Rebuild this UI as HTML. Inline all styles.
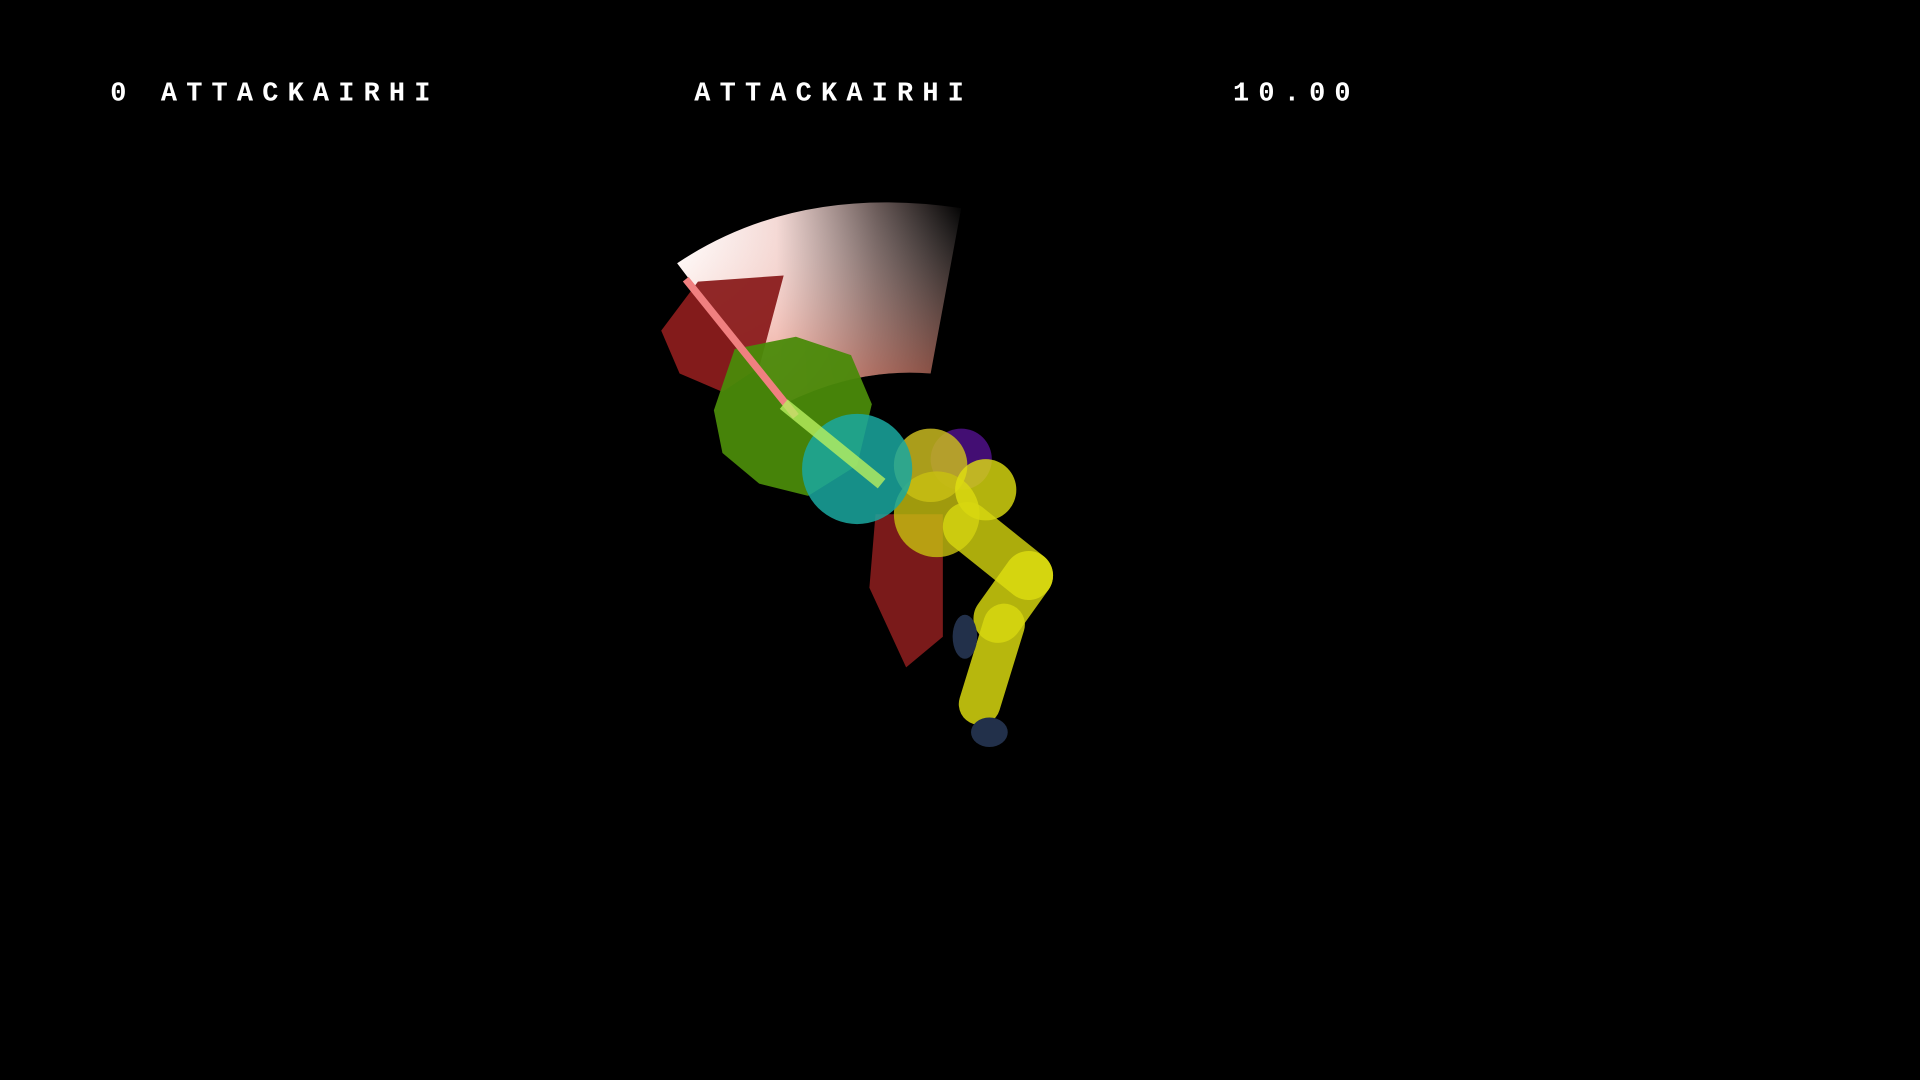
<!DOCTYPE html>
<html>
<head>
<meta charset="utf-8">
<style>
html,body{margin:0;padding:0;background:#000;width:1920px;height:1080px;overflow:hidden}
svg{display:block}
.hud{font-family:"Liberation Mono",monospace;font-weight:bold;fill:#fff;font-size:22px;letter-spacing:7.5px}
</style>
</head>
<body>
<svg width="1920" height="1080" viewBox="0 0 1568 882" preserveAspectRatio="none">
<defs>
<linearGradient id="fanGrad" x1="0" y1="0" x2="1" y2="0">
<stop offset="0" stop-color="#fff"/>
<stop offset="0.35" stop-color="#f4d8d4"/>
<stop offset="0.7" stop-color="#6a5a58"/>
<stop offset="1" stop-color="#000"/>
</linearGradient>
<linearGradient id="fanV" x1="0" y1="0" x2="0" y2="1">
<stop offset="0" stop-color="#fff" stop-opacity="0"/>
<stop offset="1" stop-color="#e86a50" stop-opacity="0.6"/>
</linearGradient>
</defs>
<rect width="1568" height="882" fill="#000"/>
<text class="hud" x="90" y="82">0 ATTACKAIRHI</text>
<text class="hud" x="567" y="82">ATTACKAIRHI</text>
<text class="hud" x="1007" y="82">10.00</text>

<g>
<path d="M553,215 Q650,150 785,170 L760,305 Q700,300 640,330 Z" fill="url(#fanGrad)"/>
<path d="M553,215 Q650,150 785,170 L760,305 Q700,300 640,330 Z" fill="url(#fanV)"/>
</g>
<polygon points="570,230 640,225 620,300 590,320 555,305 540,270" fill="#8a1c1c" opacity="0.95"/>
<g>
<polygon points="715,420 770,420 770,520 740,545 710,480" fill="#7a1a1a"/>
<circle cx="785" cy="375" r="25" fill="#4a1080" opacity="0.9"/>
<circle cx="760" cy="380" r="30" fill="#c8b820" opacity="0.85"/>
<circle cx="765" cy="420" r="35" fill="#c8c010" opacity="0.8"/>
<circle cx="805" cy="400" r="25" fill="#e0e010" opacity="0.8"/>
<line x1="790" y1="430" x2="840" y2="470" stroke="#d8d810" stroke-width="40" stroke-linecap="round" opacity="0.8"/>
<line x1="840" y1="470" x2="815" y2="505" stroke="#e0e010" stroke-width="40" stroke-linecap="round" opacity="0.8"/>
<line x1="820" y1="510" x2="800" y2="575" stroke="#d8d810" stroke-width="34" stroke-linecap="round" opacity="0.85"/>
<ellipse cx="808" cy="598" rx="15" ry="12" fill="#22304a"/>
<ellipse cx="788" cy="520" rx="10" ry="18" fill="#22304a"/>
</g>
<polygon points="600,285 650,275 695,290 712,330 700,380 660,405 620,395 590,370 583,335" fill="#4a8a0a" opacity="0.95"/>
<circle cx="700" cy="383" r="45" fill="#1aa8a0" opacity="0.85"/>
<line x1="560" y1="228" x2="650" y2="340" stroke="#f08080" stroke-width="6"/>
<line x1="640" y1="330" x2="720" y2="395" stroke="#b8f060" stroke-width="10" opacity="0.8"/>
</svg>
</body>
</html>
